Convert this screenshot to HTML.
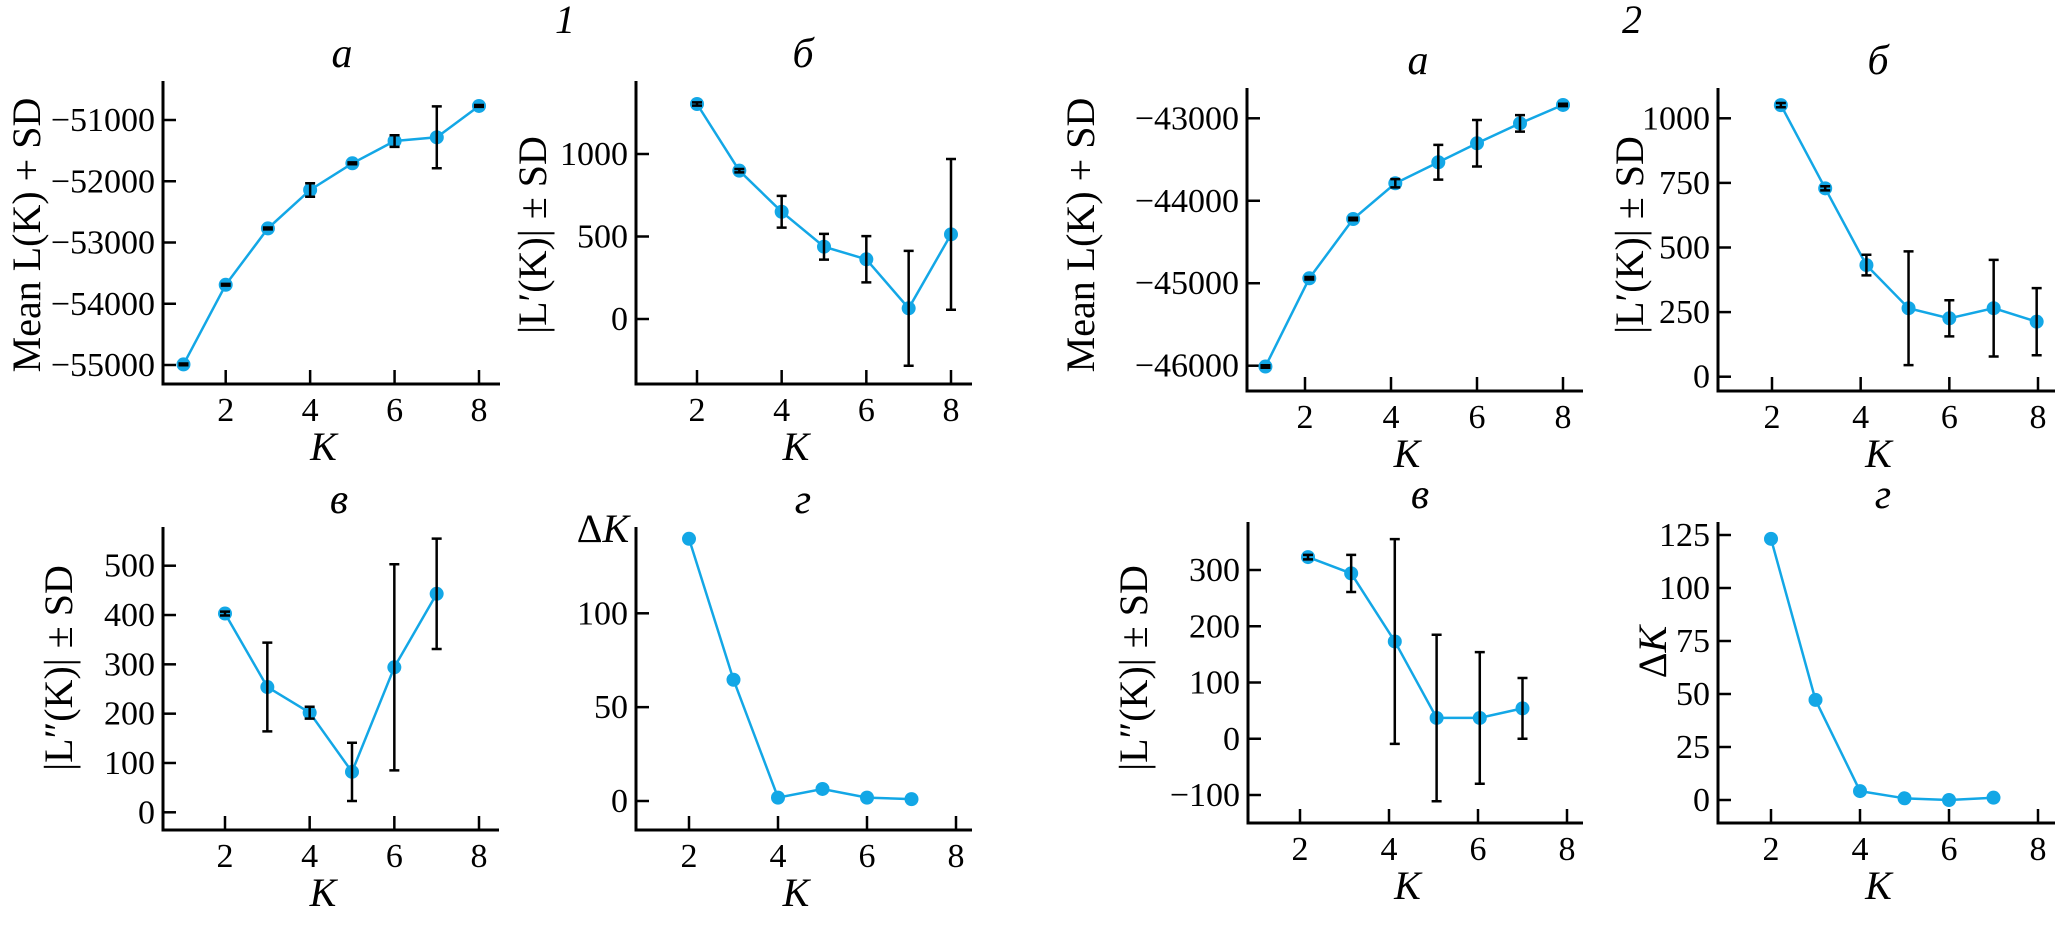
<!DOCTYPE html>
<html><head><meta charset="utf-8"><style>
html,body{margin:0;padding:0;background:#fff}
svg{display:block;font-family:"Liberation Serif",serif}
</style></head><body>
<svg id="chart" width="2067" height="951" viewBox="0 0 2067 951" xmlns="http://www.w3.org/2000/svg">
<text x="565" y="33" font-size="40" font-style="italic" text-anchor="middle">1</text>
<text x="1632" y="33" font-size="40" font-style="italic" text-anchor="middle">2</text>
</svg>
<script>
// ---- data ----
const k1a = [1,2,3,4,5,6,7,8];
const v1a = [-54990,-53690,-52770,-52143,-51707,-51343,-51283,-50771];
const e1a = [15,15,15,110,15,95,505,15];
const k1b = [2,3,4,5,6,7,8];
const v1b = [1303,899,650,438,362,65,513];
const e1b = [10,10,96,78,140,348,457];
const k1c = [2,3,4,5,6,7];
const v1c = [403,254,202,82,294,443];
const e1c = [4,90,12,59,209,112];
const k1d = [2,3,4,5,6,7];
const v1d = [139.7,64.6,1.8,6.4,1.8,1];
const k2a = [1.08,2.1,3.12,4.1,5.1,6.0,7.0,8.0];
const v2a = [-46010,-44940,-44221,-43788,-43533,-43303,-43061,-42838];
const e2a = [15,15,15,50,210,282,100,15];
const k2b = [2.2,3.2,4.13,5.08,6.0,7.0,7.97];
const v2b = [1051,729,432,265,226,265,213];
const e2b = [8,8,40,220,70,187,130];
const k2c = [2.18,3.15,4.13,5.07,6.04,7.0];
const v2c = [323,294,173,37,37,54];
const e2c = [4,33,182,148,117,54];
const k2d = [2,3,4,5,6,7];
const v2d = [123.2,47.2,4.2,0.8,0,1.1];
const xTicks = [2,4,6,8];
const yTicks1a = [-55000,-54000,-53000,-52000,-51000];
const yTicks1b = [0,500,1000];
const yTicks1c = [0,100,200,300,400,500];
const yTicks1d = [0,50,100];
const yTicks2a = [-46000,-45000,-44000,-43000];
const yTicks2b = [0,250,500,750,1000];
const yTicks2c = [-100,0,100,200,300];
const yTicks2d = [0,25,50,75,100,125];

const NS="http://www.w3.org/2000/svg";
const svg=document.getElementById('chart');
const BLUE="#13a7e6";
function el(tag,attrs,parent){const e=document.createElementNS(NS,tag);for(const a in attrs)e.setAttribute(a,attrs[a]);(parent||svg).appendChild(e);return e;}
function fmt(v){return v<0?'\u2212'+Math.abs(v):String(v);}

function panel(p){
  const g=el('g',{});
  
  
  const X=k=>p.x2+(k-2)*(p.x8-p.x2)/6;
  const Y=v=>p.yA+(v-p.vA)*(p.yB-p.yA)/(p.vB-p.vA);
  const yax=el('line',{x1:p.ax,y1:p.top,x2:p.ax,y2:p.bot,stroke:'#000','stroke-width':3},g);
  
  
  const xax=el('line',{x1:p.ax-1.5,y1:p.bot,x2:p.right,y2:p.bot,stroke:'#000','stroke-width':3},g);
  
  
  xTicks.forEach(t=>{
    const tk=el('line',{x1:X(t),y1:p.bot,x2:X(t),y2:p.bot-14,stroke:'#000','stroke-width':2.5},g);
    
    
    const tl=el('text',{x:X(t),y:p.bot+37,'font-size':34,'text-anchor':'middle'},g);
    tl.textContent=t;
    
    
  });
  p.yticks.forEach(t=>{
    const tk=el('line',{x1:p.ax,y1:Y(t),x2:p.ax+13,y2:Y(t),stroke:'#000','stroke-width':2.5},g);
    
    
    const tl=el('text',{x:p.ax-8,y:Y(t)+11,'font-size':34,'text-anchor':'end'},g);
    tl.textContent=fmt(t);
    
    
  });
  const xl=el('text',{x:(p.ax+p.right)/2-8,y:p.bot+76,'font-size':40,'font-style':'italic','text-anchor':'middle'},g);
  xl.textContent='K';
  
  
  const ti=el('text',{x:p.tx,y:p.top-14,'font-size':42,'font-style':'italic','text-anchor':'middle'},g);
  ti.textContent=p.title;
  
  
  if(p.ylabel){
    const yl=el('text',{x:0,y:0,'font-size':40,'text-anchor':'middle',transform:`translate(${p.lx},${p.ly}) rotate(-90)`},g);
    yl.textContent=p.ylabel;
    
    
  }
  if(p.dk){
    const d=el('text',{x:0,y:0,'font-size':40,'text-anchor':'middle',transform:p.dk},g);
    d.innerHTML='\u0394<tspan font-style="italic">K</tspan>';
    
    
  }
  const pts=p.k.map((k,i)=>X(k).toFixed(1)+','+Y(p.v[i]).toFixed(1)).join(' ');
  const line=el('polyline',{points:pts,fill:'none',stroke:BLUE,'stroke-width':2.5},g);
  
  
  p.k.forEach((k,i)=>{
    const c=el('circle',{cx:X(k),cy:Y(p.v[i]),r:7,fill:BLUE},g);
    
    
  });
  if(p.e){
    p.k.forEach((k,i)=>{
      const x=X(k),y1=Y(p.v[i]+p.e[i]),y2=Y(p.v[i]-p.e[i]);
      const eb=el('path',{d:`M${x},${y1}V${y2}M${x-5},${y1}H${x+5}M${x-5},${y2}H${x+5}`,stroke:'#000','stroke-width':2.5,fill:'none'},g);
      
      
    });
  }
}

panel({name:'panel-1a',ax:163,top:81,bot:384,right:500,x2:225.7,x8:479,vA:-51000,yA:120,vB:-55000,yB:365,yticks:yTicks1a,k:k1a,v:v1a,e:e1a,title:'а',tx:342,ylabel:'Mean L(K) + SD',lx:40,ly:235});
panel({name:'panel-1b',ax:636,top:81,bot:384,right:972,x2:697,x8:951,vA:1000,yA:154,vB:0,yB:319,yticks:yTicks1b,k:k1b,v:v1b,e:e1b,title:'б',tx:803,ylabel:'|L\u2032(K)| \u00b1 SD',lx:546,ly:235});
panel({name:'panel-1c',ax:163,top:527,bot:830,right:499,x2:225,x8:479,vA:500,yA:565.7,vB:0,yB:812.3,yticks:yTicks1c,k:k1c,v:v1c,e:e1c,title:'в',tx:339,ylabel:'|L\u2033(K)| \u00b1 SD',lx:72,ly:668});
panel({name:'panel-1d',ax:636,top:527,bot:830,right:972,x2:689,x8:956,vA:100,yA:613.3,vB:0,yB:801,yticks:yTicks1d,k:k1d,v:v1d,title:'г',tx:803,dk:'translate(603,542)'});
panel({name:'panel-2a',ax:1247,top:88,bot:391,right:1583,x2:1305,x8:1563,vA:-43000,yA:118.3,vB:-46000,yB:365.7,yticks:yTicks2a,k:k2a,v:v2a,e:e2a,title:'а',tx:1418,ylabel:'Mean L(K) + SD',lx:1094,ly:235});
panel({name:'panel-2b',ax:1718,top:88,bot:391,right:2055,x2:1772,x8:2038,vA:1000,yA:118.3,vB:0,yB:376.7,yticks:yTicks2b,k:k2b,v:v2b,e:e2b,title:'б',tx:1878,ylabel:'|L\u2032(K)| \u00b1 SD',lx:1643,ly:235});
panel({name:'panel-2c',ax:1248,top:522,bot:823,right:1583,x2:1300,x8:1567,vA:300,yA:570,vB:-100,yB:795,yticks:yTicks2c,k:k2c,v:v2c,e:e2c,title:'в',tx:1420,ylabel:'|L\u2033(K)| \u00b1 SD',lx:1147,ly:668});
panel({name:'panel-2d',ax:1718,top:522,bot:823,right:2055,x2:1771,x8:2038,vA:125,yA:535,vB:0,yB:800,yticks:yTicks2d,k:k2d,v:v2d,title:'г',tx:1883,dk:'translate(1666,652) rotate(-90)'});
</script>
</body></html>
